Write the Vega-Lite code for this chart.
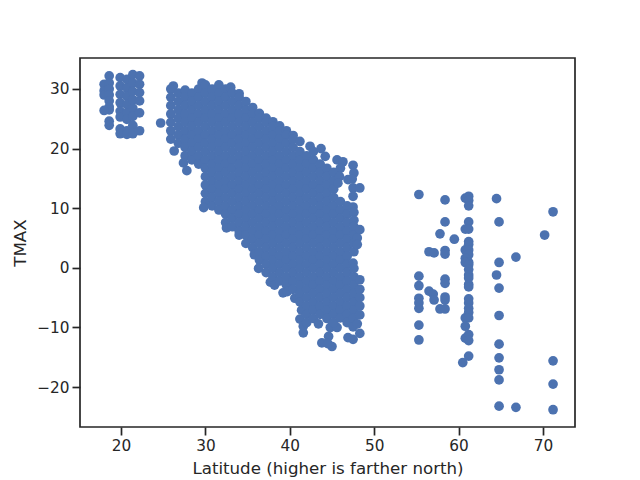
{
"$schema":"https://vega.github.io/schema/vega-lite/v6.json",
"width":495,"height":369,
"autosize":"none",
"padding":{"left":80,"top":58,"right":65,"bottom":53},
"background":"white",
"config":{"font":"DejaVu Sans","view":{"stroke":"#262626","strokeWidth":1.7},
"axis":{"grid":false,"domain":false,"tickColor":"#262626","tickWidth":1.7,"tickSize":8,"labelColor":"#262626","titleColor":"#262626","labelFontSize":15.3,"titleFontSize":16.67,"titleFontWeight":"normal","labelPadding":3}},
"data":{"values":[
{"lat":18,"t":30.8},{"lat":18,"t":29.7},{"lat":18,"t":29},{"lat":18.6,"t":32.2},{"lat":18.6,"t":31},{"lat":18.6,"t":30},{"lat":18.6,"t":29},{"lat":18.6,"t":28},{"lat":18.6,"t":27},{"lat":18.6,"t":26.5},{"lat":18,"t":26.4},{"lat":18.6,"t":24.6},{"lat":18.6,"t":23.9},
{"lat":19.9,"t":31.9},{"lat":19.9,"t":30.5},{"lat":19.9,"t":29.1},{"lat":19.9,"t":27.7},{"lat":19.9,"t":26.3},{"lat":19.9,"t":25.3},{"lat":19.9,"t":23.3},{"lat":19.9,"t":22.5},
{"lat":20.7,"t":31.6},{"lat":20.7,"t":30.2},{"lat":20.7,"t":28.8},{"lat":20.7,"t":27.4},{"lat":20.7,"t":26},{"lat":20.7,"t":24.9},{"lat":20.7,"t":23},{"lat":20.7,"t":22.4},
{"lat":21.4,"t":32.4},{"lat":21.4,"t":31},{"lat":21.4,"t":29.6},{"lat":21.4,"t":28.2},{"lat":21.4,"t":26.8},{"lat":21.4,"t":25.4},{"lat":21.4,"t":23.9},{"lat":21.4,"t":22.5},
{"lat":22.2,"t":32.2},{"lat":22.2,"t":30.8},{"lat":22.2,"t":29.4},{"lat":22.2,"t":28},{"lat":22.2,"t":26},{"lat":22.2,"t":23},
{"lat":24.7,"t":24.3},
{"lat":26.2,"t":30.5},{"lat":26.3,"t":19.6},
{"lat":25.9,"t":30},{"lat":25.9,"t":28.6},{"lat":25.9,"t":27.2},{"lat":25.9,"t":25.8},{"lat":25.9,"t":24.4},{"lat":25.9,"t":23},{"lat":25.9,"t":21.6},
{"lat":26.8,"t":29.3},{"lat":26.8,"t":27.9},{"lat":26.8,"t":26.5},{"lat":26.8,"t":25.1},{"lat":26.8,"t":23.7},{"lat":26.8,"t":22.3},{"lat":26.8,"t":20.9},
{"lat":27.6,"t":29.8},{"lat":27.6,"t":28.6},{"lat":27.6,"t":27.2},{"lat":27.6,"t":25.8},{"lat":27.6,"t":24.4},{"lat":27.6,"t":23},{"lat":27.6,"t":21.6},{"lat":27.6,"t":20.2},{"lat":27.6,"t":18.8},{"lat":27.4,"t":17.6},{"lat":27.8,"t":16.3},
{"lat":28.4,"t":29.3},{"lat":28.4,"t":27.9},{"lat":28.4,"t":26.5},{"lat":28.4,"t":25.1},{"lat":28.4,"t":23.7},{"lat":28.4,"t":22.3},{"lat":28.4,"t":20.9},{"lat":28.4,"t":19.5},{"lat":28.4,"t":18.1},
{"lat":29.6,"t":31},{"lat":29.2,"t":30},{"lat":29.2,"t":28.6},{"lat":29.2,"t":27.2},{"lat":29.2,"t":25.8},{"lat":29.2,"t":24.4},{"lat":29.2,"t":23},{"lat":29.2,"t":21.6},{"lat":29.2,"t":20.2},{"lat":29.2,"t":18.8},{"lat":29.2,"t":17.4},
{"lat":30,"t":30.7},{"lat":30,"t":29.3},{"lat":30,"t":27.9},{"lat":30,"t":26.5},{"lat":30,"t":25.1},{"lat":30,"t":23.7},{"lat":30,"t":22.3},{"lat":30,"t":20.9},{"lat":30,"t":19.5},{"lat":30,"t":18.1},{"lat":30,"t":16.7},{"lat":30,"t":15.3},{"lat":30,"t":13.9},{"lat":30,"t":12.5},{"lat":30,"t":11.1},{"lat":29.8,"t":10.1},
{"lat":30.8,"t":30},{"lat":30.8,"t":28.6},{"lat":30.8,"t":27.2},{"lat":30.8,"t":25.8},{"lat":30.8,"t":24.4},{"lat":30.8,"t":23},{"lat":30.8,"t":21.6},{"lat":30.8,"t":20.2},{"lat":30.8,"t":18.8},{"lat":30.8,"t":17.4},{"lat":30.8,"t":16},{"lat":30.8,"t":14.6},{"lat":30.8,"t":13.2},{"lat":30.8,"t":11.8},{"lat":30.8,"t":10.4},
{"lat":31.6,"t":30.7},{"lat":31.6,"t":29.3},{"lat":31.6,"t":27.9},{"lat":31.6,"t":26.5},{"lat":31.6,"t":25.1},{"lat":31.6,"t":23.7},{"lat":31.6,"t":22.3},{"lat":31.6,"t":20.9},{"lat":31.6,"t":19.5},{"lat":31.6,"t":18.1},{"lat":31.6,"t":16.7},{"lat":31.6,"t":15.3},{"lat":31.6,"t":13.9},{"lat":31.6,"t":12.5},{"lat":31.6,"t":11.1},{"lat":31.6,"t":9.7},
{"lat":32.4,"t":30},{"lat":32.4,"t":28.6},{"lat":32.4,"t":27.2},{"lat":32.4,"t":25.8},{"lat":32.4,"t":24.4},{"lat":32.4,"t":23},{"lat":32.4,"t":21.6},{"lat":32.4,"t":20.2},{"lat":32.4,"t":18.8},{"lat":32.4,"t":17.4},{"lat":32.4,"t":16},{"lat":32.4,"t":14.6},{"lat":32.4,"t":13.2},{"lat":32.4,"t":11.8},{"lat":32.4,"t":10.4},{"lat":32.4,"t":9},{"lat":32.4,"t":7.6},{"lat":32.5,"t":6.7},
{"lat":33,"t":30.3},{"lat":33.2,"t":29.3},{"lat":33.2,"t":27.9},{"lat":33.2,"t":26.5},{"lat":33.2,"t":25.1},{"lat":33.2,"t":23.7},{"lat":33.2,"t":22.3},{"lat":33.2,"t":20.9},{"lat":33.2,"t":19.5},{"lat":33.2,"t":18.1},{"lat":33.2,"t":16.7},{"lat":33.2,"t":15.3},{"lat":33.2,"t":13.9},{"lat":33.2,"t":12.5},{"lat":33.2,"t":11.1},{"lat":33.2,"t":9.7},{"lat":33.2,"t":8.3},{"lat":33.2,"t":6.9},
{"lat":34,"t":29.2},{"lat":34,"t":28.6},{"lat":34,"t":27.2},{"lat":34,"t":25.8},{"lat":34,"t":24.4},{"lat":34,"t":23},{"lat":34,"t":21.6},{"lat":34,"t":20.2},{"lat":34,"t":18.8},{"lat":34,"t":17.4},{"lat":34,"t":16},{"lat":34,"t":14.6},{"lat":34,"t":13.2},{"lat":34,"t":11.8},{"lat":34,"t":10.4},{"lat":34,"t":9},{"lat":34,"t":7.6},{"lat":34,"t":6.2},{"lat":34,"t":5.5},
{"lat":34.8,"t":27.9},{"lat":34.8,"t":26.5},{"lat":34.8,"t":25.1},{"lat":34.8,"t":23.7},{"lat":34.8,"t":22.3},{"lat":34.8,"t":20.9},{"lat":34.8,"t":19.5},{"lat":34.8,"t":18.1},{"lat":34.8,"t":16.7},{"lat":34.8,"t":15.3},{"lat":34.8,"t":13.9},{"lat":34.8,"t":12.5},{"lat":34.8,"t":11.1},{"lat":34.8,"t":9.7},{"lat":34.8,"t":8.3},{"lat":34.8,"t":6.9},{"lat":34.8,"t":5.5},{"lat":34.8,"t":4.1},
{"lat":35.6,"t":26.9},{"lat":35.6,"t":25.8},{"lat":35.6,"t":24.4},{"lat":35.6,"t":23},{"lat":35.6,"t":21.6},{"lat":35.6,"t":20.2},{"lat":35.6,"t":18.8},{"lat":35.6,"t":17.4},{"lat":35.6,"t":16},{"lat":35.6,"t":14.6},{"lat":35.6,"t":13.2},{"lat":35.6,"t":11.8},{"lat":35.6,"t":10.4},{"lat":35.6,"t":9},{"lat":35.6,"t":7.6},{"lat":35.6,"t":6.2},{"lat":35.6,"t":4.8},{"lat":35.6,"t":3.4},{"lat":35.8,"t":2.2},
{"lat":36.4,"t":25.9},{"lat":36.4,"t":25.1},{"lat":36.4,"t":23.7},{"lat":36.4,"t":22.3},{"lat":36.4,"t":20.9},{"lat":36.4,"t":19.5},{"lat":36.4,"t":18.1},{"lat":36.4,"t":16.7},{"lat":36.4,"t":15.3},{"lat":36.4,"t":13.9},{"lat":36.4,"t":12.5},{"lat":36.4,"t":11.1},{"lat":36.4,"t":9.7},{"lat":36.4,"t":8.3},{"lat":36.4,"t":6.9},{"lat":36.4,"t":5.5},{"lat":36.4,"t":4.1},{"lat":36.4,"t":2.7},{"lat":36.4,"t":1.3},{"lat":36.3,"t":-0.1},
{"lat":37.2,"t":25.1},{"lat":37.2,"t":24.4},{"lat":37.2,"t":23},{"lat":37.2,"t":21.6},{"lat":37.2,"t":20.2},{"lat":37.2,"t":18.8},{"lat":37.2,"t":17.4},{"lat":37.2,"t":16},{"lat":37.2,"t":14.6},{"lat":37.2,"t":13.2},{"lat":37.2,"t":11.8},{"lat":37.2,"t":10.4},{"lat":37.2,"t":9},{"lat":37.2,"t":7.6},{"lat":37.2,"t":6.2},{"lat":37.2,"t":4.8},{"lat":37.2,"t":3.4},{"lat":37.2,"t":2},{"lat":37.2,"t":0.6},{"lat":37.2,"t":-0.8},{"lat":37.7,"t":-2.4},
{"lat":38,"t":24.5},{"lat":38,"t":23.7},{"lat":38,"t":22.3},{"lat":38,"t":20.9},{"lat":38,"t":19.5},{"lat":38,"t":18.1},{"lat":38,"t":16.7},{"lat":38,"t":15.3},{"lat":38,"t":13.9},{"lat":38,"t":12.5},{"lat":38,"t":11.1},{"lat":38,"t":9.7},{"lat":38,"t":8.3},{"lat":38,"t":6.9},{"lat":38,"t":5.5},{"lat":38,"t":4.1},{"lat":38,"t":2.7},{"lat":38,"t":1.3},{"lat":38,"t":-0.1},{"lat":38,"t":-1.5},{"lat":38.2,"t":-2.9},
{"lat":38.8,"t":23.8},{"lat":38.8,"t":23},{"lat":38.8,"t":21.6},{"lat":38.8,"t":20.2},{"lat":38.8,"t":18.8},{"lat":38.8,"t":17.4},{"lat":38.8,"t":16},{"lat":38.8,"t":14.6},{"lat":38.8,"t":13.2},{"lat":38.8,"t":11.8},{"lat":38.8,"t":10.4},{"lat":38.8,"t":9},{"lat":38.8,"t":7.6},{"lat":38.8,"t":6.2},{"lat":38.8,"t":4.8},{"lat":38.8,"t":3.4},{"lat":38.8,"t":2},{"lat":38.8,"t":0.6},{"lat":38.8,"t":-0.8},{"lat":38.8,"t":-2.2},{"lat":39.2,"t":-4.2},
{"lat":39.6,"t":23},{"lat":39.6,"t":22.3},{"lat":39.6,"t":20.9},{"lat":39.6,"t":19.5},{"lat":39.6,"t":18.1},{"lat":39.6,"t":16.7},{"lat":39.6,"t":15.3},{"lat":39.6,"t":13.9},{"lat":39.6,"t":12.5},{"lat":39.6,"t":11.1},{"lat":39.6,"t":9.7},{"lat":39.6,"t":8.3},{"lat":39.6,"t":6.9},{"lat":39.6,"t":5.5},{"lat":39.6,"t":4.1},{"lat":39.6,"t":2.7},{"lat":39.6,"t":1.3},{"lat":39.6,"t":-0.1},{"lat":39.6,"t":-1.5},{"lat":39.6,"t":-2.9},{"lat":39.7,"t":-4},
{"lat":40.4,"t":22.2},{"lat":40.4,"t":21.6},{"lat":40.4,"t":20.2},{"lat":40.4,"t":18.8},{"lat":40.4,"t":17.4},{"lat":40.4,"t":16},{"lat":40.4,"t":14.6},{"lat":40.4,"t":13.2},{"lat":40.4,"t":11.8},{"lat":40.4,"t":10.4},{"lat":40.4,"t":9},{"lat":40.4,"t":7.6},{"lat":40.4,"t":6.2},{"lat":40.4,"t":4.8},{"lat":40.4,"t":3.4},{"lat":40.4,"t":2},{"lat":40.4,"t":0.6},{"lat":40.4,"t":-0.8},{"lat":40.4,"t":-2.2},{"lat":40.4,"t":-3.6},{"lat":40.6,"t":-5.1},
{"lat":41.2,"t":21.2},{"lat":41.2,"t":19.5},{"lat":41.2,"t":18.1},{"lat":41.2,"t":16.7},{"lat":41.2,"t":15.3},{"lat":41.2,"t":13.9},{"lat":41.2,"t":12.5},{"lat":41.2,"t":11.1},{"lat":41.2,"t":9.7},{"lat":41.2,"t":8.3},{"lat":41.2,"t":6.9},{"lat":41.2,"t":5.5},{"lat":41.2,"t":4.1},{"lat":41.2,"t":2.7},{"lat":41.2,"t":1.3},{"lat":41.2,"t":-0.1},{"lat":41.2,"t":-1.5},{"lat":41.2,"t":-2.9},{"lat":41.2,"t":-4.3},{"lat":41.2,"t":-5.7},{"lat":41.4,"t":-7.1},{"lat":41.2,"t":-8.6},
{"lat":41.6,"t":-10.9},{"lat":41.6,"t":-9.8},{"lat":42.4,"t":20.4},
{"lat":42,"t":18.8},{"lat":42,"t":17.4},{"lat":42,"t":16},{"lat":42,"t":14.6},{"lat":42,"t":13.2},{"lat":42,"t":11.8},{"lat":42,"t":10.4},{"lat":42,"t":9},{"lat":42,"t":7.6},{"lat":42,"t":6.2},{"lat":42,"t":4.8},{"lat":42,"t":3.4},{"lat":42,"t":2},{"lat":42,"t":0.6},{"lat":42,"t":-0.8},{"lat":42,"t":-2.2},{"lat":42,"t":-3.6},{"lat":42,"t":-5},{"lat":42,"t":-6.4},{"lat":42,"t":-7.8},{"lat":42,"t":-9.2},
{"lat":42.8,"t":19.5},{"lat":42.8,"t":18.1},{"lat":42.8,"t":16.7},{"lat":42.8,"t":15.3},{"lat":42.8,"t":13.9},{"lat":42.8,"t":12.5},{"lat":42.8,"t":11.1},{"lat":42.8,"t":9.7},{"lat":42.8,"t":8.3},{"lat":42.8,"t":6.9},{"lat":42.8,"t":5.5},{"lat":42.8,"t":4.1},{"lat":42.8,"t":2.7},{"lat":42.8,"t":1.3},{"lat":42.8,"t":-0.1},{"lat":42.8,"t":-1.5},{"lat":42.8,"t":-2.9},{"lat":42.8,"t":-4.3},{"lat":42.8,"t":-5.7},{"lat":42.8,"t":-7.1},{"lat":42.8,"t":-8.5},
{"lat":43.7,"t":20},{"lat":43.8,"t":-12.6},{"lat":44.6,"t":-11.5},{"lat":44.2,"t":18.7},
{"lat":43.6,"t":17.4},{"lat":43.6,"t":16},{"lat":43.6,"t":14.6},{"lat":43.6,"t":13.2},{"lat":43.6,"t":11.8},{"lat":43.6,"t":10.4},{"lat":43.6,"t":9},{"lat":43.6,"t":7.6},{"lat":43.6,"t":6.2},{"lat":43.6,"t":4.8},{"lat":43.6,"t":3.4},{"lat":43.6,"t":2},{"lat":43.6,"t":0.6},{"lat":43.6,"t":-0.8},{"lat":43.6,"t":-2.2},{"lat":43.6,"t":-3.6},{"lat":43.6,"t":-5},{"lat":43.6,"t":-6.4},{"lat":43.6,"t":-7.8},{"lat":43.4,"t":-9.4},
{"lat":44.4,"t":16.7},{"lat":44.4,"t":15.3},{"lat":44.4,"t":13.9},{"lat":44.4,"t":12.5},{"lat":44.4,"t":11.1},{"lat":44.4,"t":9.7},{"lat":44.4,"t":8.3},{"lat":44.4,"t":6.9},{"lat":44.4,"t":5.5},{"lat":44.4,"t":4.1},{"lat":44.4,"t":2.7},{"lat":44.4,"t":1.3},{"lat":44.4,"t":-0.1},{"lat":44.4,"t":-1.5},{"lat":44.4,"t":-2.9},{"lat":44.4,"t":-4.3},{"lat":44.4,"t":-5.7},{"lat":44.4,"t":-7.1},{"lat":44.4,"t":-8.5},{"lat":44.8,"t":-10},
{"lat":45,"t":-13.2},{"lat":44.5,"t":-12.7},{"lat":45.6,"t":18.1},{"lat":45.6,"t":-10},
{"lat":45.2,"t":16},{"lat":45.2,"t":14.6},{"lat":45.2,"t":13.2},{"lat":45.2,"t":11.8},{"lat":45.2,"t":10.4},{"lat":45.2,"t":9},{"lat":45.2,"t":7.6},{"lat":45.2,"t":6.2},{"lat":45.2,"t":4.8},{"lat":45.2,"t":3.4},{"lat":45.2,"t":2},{"lat":45.2,"t":0.6},{"lat":45.2,"t":-0.8},{"lat":45.2,"t":-2.2},{"lat":45.2,"t":-3.6},{"lat":45.2,"t":-5},{"lat":45.2,"t":-6.4},{"lat":45.2,"t":-7.8},{"lat":45.2,"t":-9.2},
{"lat":46.3,"t":17.8},{"lat":46,"t":16.7},{"lat":45.9,"t":15.3},{"lat":45.7,"t":14.2},{"lat":46,"t":11.1},{"lat":46,"t":9.7},{"lat":46,"t":8.3},{"lat":46,"t":6.9},{"lat":46,"t":5.5},{"lat":46,"t":4.1},{"lat":46,"t":2.7},{"lat":46,"t":1.3},{"lat":46,"t":-0.1},{"lat":46,"t":-1.5},{"lat":46,"t":-2.9},{"lat":46,"t":-4.3},{"lat":46,"t":-5.7},{"lat":46,"t":-7.1},{"lat":46,"t":-8.4},
{"lat":46.9,"t":14.8},{"lat":46.8,"t":10.4},{"lat":46.8,"t":9},{"lat":46.8,"t":7.6},{"lat":46.8,"t":6.2},{"lat":46.8,"t":4.8},{"lat":46.8,"t":3.4},{"lat":46.8,"t":2},{"lat":46.8,"t":0.6},{"lat":46.8,"t":-0.8},{"lat":46.8,"t":-2.2},{"lat":46.8,"t":-3.6},{"lat":46.8,"t":-5},{"lat":46.8,"t":-6.4},{"lat":46.8,"t":-7.8},{"lat":46.8,"t":-9.2},{"lat":46.9,"t":-11.7},
{"lat":47.5,"t":17.2},{"lat":47.6,"t":15.9},{"lat":47.4,"t":14.9},{"lat":47.5,"t":13.4},{"lat":47.5,"t":12},{"lat":47.5,"t":10.2},{"lat":47.6,"t":9.3},{"lat":47.6,"t":8},{"lat":47.6,"t":6.9},{"lat":47.6,"t":5.5},{"lat":47.6,"t":4.1},{"lat":47.6,"t":2.7},{"lat":47.5,"t":0.8},{"lat":47.6,"t":-0.1},{"lat":47.6,"t":-1.5},{"lat":47.6,"t":-2.9},{"lat":47.6,"t":-4.3},{"lat":47.6,"t":-5.7},{"lat":47.6,"t":-7.1},{"lat":47.5,"t":-8.5},{"lat":47.5,"t":-9.9},{"lat":47.5,"t":-12},
{"lat":48.3,"t":13.4},{"lat":48.3,"t":6.4},{"lat":48,"t":5},{"lat":48,"t":3.9},{"lat":48.3,"t":-2},{"lat":48.3,"t":-3.6},{"lat":48.3,"t":-5},{"lat":48.3,"t":-6.4},{"lat":48.3,"t":-7.9},{"lat":48,"t":-9.4},{"lat":48.3,"t":-11},
{"lat":55.3,"t":12.3},{"lat":58.4,"t":11.4},{"lat":60.8,"t":11.7},{"lat":61.2,"t":12},{"lat":61.2,"t":11.3},{"lat":61.2,"t":10.4},{"lat":64.5,"t":11.6},{"lat":71.2,"t":9.4},{"lat":58.4,"t":7.7},{"lat":61.2,"t":7.7},{"lat":60.8,"t":6.5},{"lat":61.2,"t":6.5},{"lat":64.8,"t":7.7},{"lat":57.8,"t":5.7},{"lat":59.5,"t":4.8},{"lat":70.2,"t":5.5},{"lat":61.2,"t":4.4},{"lat":61.2,"t":3.9},{"lat":56.5,"t":2.7},{"lat":57.1,"t":2.5},{"lat":58.4,"t":2.9},{"lat":58.4,"t":2.3},{"lat":60.8,"t":3},{"lat":61.2,"t":3},{"lat":61.2,"t":2.2},{"lat":60.8,"t":1.6},{"lat":61.2,"t":0.9},{"lat":60.8,"t":0.9},{"lat":61.2,"t":0.5},{"lat":61.2,"t":-0.3},{"lat":61.2,"t":-1.2},{"lat":61.2,"t":-1.7},{"lat":66.8,"t":1.8},{"lat":64.8,"t":0.9},{"lat":64.5,"t":-1.2},{"lat":55.3,"t":-1.4},{"lat":58.4,"t":-1.9},{"lat":58.4,"t":-2.6},{"lat":55.3,"t":-3},{"lat":61.2,"t":-2.8},{"lat":61.2,"t":-3.2},{"lat":64.8,"t":-3.4},{"lat":56.5,"t":-3.9},{"lat":57,"t":-4.4},{"lat":57.1,"t":-5.4},{"lat":58.4,"t":-4.9},{"lat":58.4,"t":-5.4},{"lat":55.3,"t":-5.1},{"lat":55.3,"t":-5.9},{"lat":55.3,"t":-6.8},{"lat":61.2,"t":-5.2},{"lat":61.2,"t":-5.9},{"lat":61.2,"t":-6.8},{"lat":57.8,"t":-6.9},{"lat":58.4,"t":-6.9},{"lat":61.2,"t":-7.5},{"lat":60.8,"t":-8.4},{"lat":61.2,"t":-8.4},{"lat":64.8,"t":-8},{"lat":60.8,"t":-9.8},{"lat":55.3,"t":-9.6},{"lat":55.3,"t":-12.1},{"lat":60.8,"t":-11.8},{"lat":61.2,"t":-11.2},{"lat":61.2,"t":-12.2},{"lat":64.8,"t":-12.8},{"lat":61.2,"t":-14.8},{"lat":60.5,"t":-15.9},{"lat":64.8,"t":-15.1},{"lat":64.8,"t":-17.1},{"lat":64.8,"t":-18.8},{"lat":71.2,"t":-15.6},{"lat":71.2,"t":-19.5},{"lat":71.2,"t":-23.8},{"lat":64.8,"t":-23.2},{"lat":66.8,"t":-23.4}
]},
"mark":{"type":"point","filled":true,"opacity":1,"size":94,"color":"#4c72b0","clip":true},
"encoding":{
"x":{"field":"lat","type":"quantitative","title":"Latitude (higher is farther north)","scale":{"domain":[15.14,73.8],"nice":false,"zero":false},"axis":{"values":[20,30,40,50,60,70],"titlePadding":7}},
"y":{"field":"t","type":"quantitative","title":"TMAX","scale":{"domain":[-26.7,35.2],"nice":false,"zero":false},"axis":{"values":[-20,-10,0,10,20,30],"titlePadding":7}}
}
}
